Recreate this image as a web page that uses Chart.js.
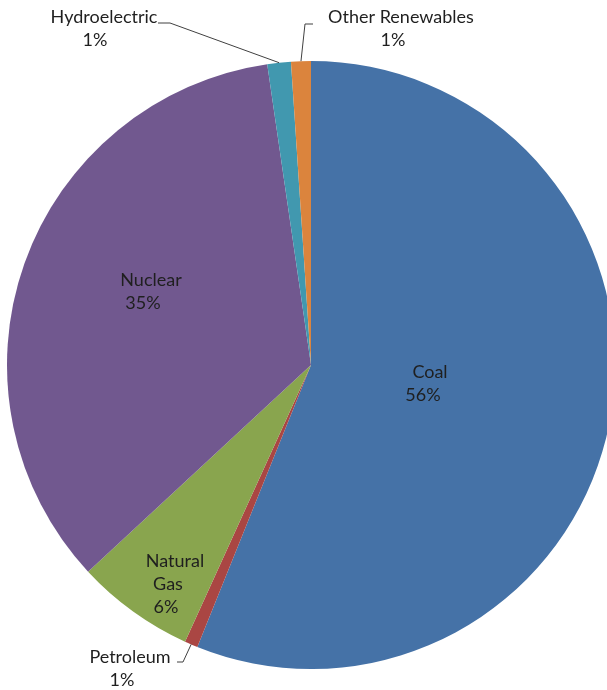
<!DOCTYPE html>
<html>
<head>
<meta charset="utf-8">
<title>Electricity generation by source</title>
<script src="https://cdn.jsdelivr.net/npm/chart.js@4"></script>
<style>
  html, body { margin: 0; padding: 0; background: #fff; overflow: hidden; }
  canvas { display: block; }
</style>
</head>
<body>
<canvas id="pie" width="622" height="690"></canvas>
<script>
const categories = ['Coal', 'Petroleum', 'Natural Gas', 'Nuclear', 'Hydroelectric', 'Other Renewables'];
const shares = [56.1, 0.7, 6.3, 34.6, 1.25, 1.05];
const sliceColors = ['#4572A7', '#AA4643', '#89A54E', '#71588F', '#4198AF', '#DB843D'];

// where each label's lines go; outside labels also get an elbow for the leader line
const labelLayout = [
  { lines: [[430, 372], [423, 395]] },
  { lines: [[130, 657], [122, 680]], elbow: [183, 662], tail: 177 },
  { lines: [[175, 561], [168, 584], [166, 607]] },
  { lines: [[151, 280], [143, 303]] },
  { lines: [[104, 17], [95, 40]], elbow: [170, 23], tail: 158 },
  { lines: [[401, 17], [393, 40]], elbow: [305, 24], tail: 313 }
];

const total = shares.reduce((a, b) => a + b, 0);

const sliceLabels = {
  id: 'sliceLabels',
  afterDatasetsDraw(chart) {
    const ctx = chart.ctx;
    const arcs = chart.getDatasetMeta(0).data;
    ctx.save();
    ctx.font = '18px Lato';
    ctx.fillStyle = '#1f1f1f';
    ctx.textAlign = 'center';
    ctx.textBaseline = 'middle';
    arcs.forEach((arc, i) => {
      const spot = labelLayout[i];
      const pct = Math.round(shares[i] / total * 100) + '%';
      const words = categories[i] === 'Natural Gas' ? ['Natural', 'Gas'] : [categories[i]];
      const text = words.concat(pct);
      text.forEach((t, k) => ctx.fillText(t, spot.lines[k][0], spot.lines[k][1]));

      if (spot.elbow) {
        const mid = (arc.startAngle + arc.endAngle) / 2;
        const ex = arc.x + arc.outerRadius * Math.cos(mid);
        const ey = arc.y + arc.outerRadius * Math.sin(mid);
        ctx.beginPath();
        ctx.strokeStyle = '#404040';
        ctx.lineWidth = 1;
        ctx.moveTo(spot.tail, spot.elbow[1]);
        ctx.lineTo(spot.elbow[0], spot.elbow[1]);
        ctx.lineTo(ex, ey);
        ctx.stroke();
      }
    });
    ctx.restore();
  }
};

new Chart(document.getElementById('pie'), {
  type: 'pie',
  data: {
    labels: categories,
    datasets: [{
      data: shares,
      backgroundColor: sliceColors,
      borderWidth: 0
    }]
  },
  options: {
    responsive: false,
    animation: false,
    devicePixelRatio: 1,
    layout: { padding: { left: 7, right: 7, top: 61, bottom: 21 } },
    plugins: {
      legend: { display: false },
      tooltip: { enabled: false }
    }
  },
  plugins: [sliceLabels]
});
</script>
</body>
</html>
